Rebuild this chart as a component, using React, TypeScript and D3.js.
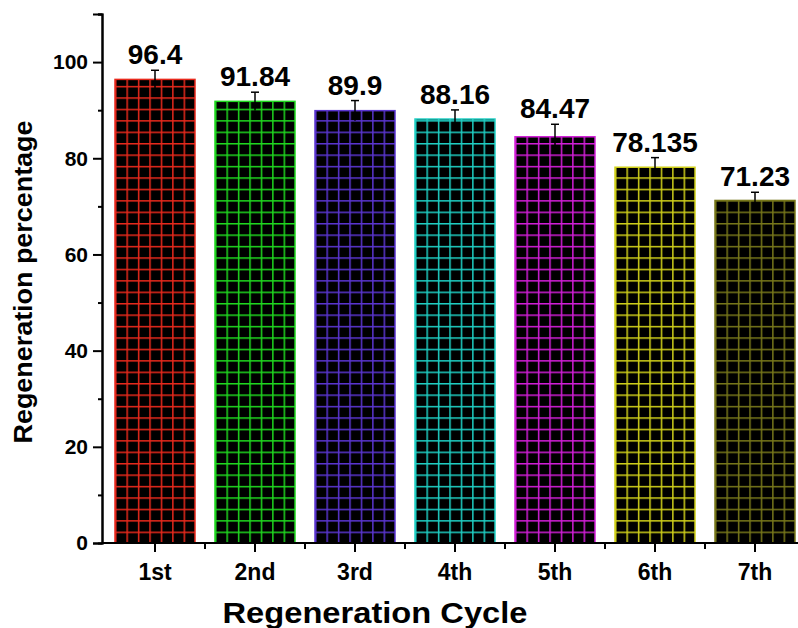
import React from "react";
import * as d3 from "d3";

const cycles = ["1st", "2nd", "3rd", "4th", "5th", "6th", "7th"];
const regen = [96.4, 91.84, 89.9, 88.16, 84.47, 78.135, 71.23];
const errors = [1.9, 1.9, 2.1, 1.9, 2.6, 2.0, 1.7];
const barColors = ["#e8291c", "#1fd81f", "#5a35d0", "#1fcfc4", "#d21ed8", "#cfcf1a", "#77771a"];
const yTicks = [0, 20, 40, 60, 80, 100];
const yMinor = [10, 30, 50, 70, 90, 110];

const W = 798;
const H = 628;
const FONT = '"Liberation Sans", Arial, sans-serif';

const App = () => {
  const ref = React.useRef<SVGSVGElement>(null);

  React.useEffect(() => {
    const svg = d3.select(ref.current);
    svg.selectAll("*").remove();

    const x = d3.scaleBand().domain(cycles).range([105, 805]).paddingInner(0.2).paddingOuter(0.1);
    const y = d3.scaleLinear().domain([0, 110]).range([543, 14]);
    const bw = x.bandwidth();
    const cell = bw / 7;

    // grid patterns, one per bar so the lines line up with each bar's edge
    const defs = svg.append("defs");
    cycles.forEach((c, i) => {
      const p = defs.append("pattern")
        .attr("id", "pat" + i)
        .attr("patternUnits", "userSpaceOnUse")
        .attr("x", x(c)!)
        .attr("y", y(0))
        .attr("width", cell)
        .attr("height", cell);
      p.append("rect").attr("width", cell).attr("height", cell).attr("fill", "black");
      p.append("line").attr("x1", 0).attr("x2", 0).attr("y1", 0).attr("y2", cell)
        .attr("stroke", barColors[i]).attr("stroke-width", 3);
      p.append("line").attr("x1", 0).attr("x2", cell).attr("y1", 0).attr("y2", 0)
        .attr("stroke", barColors[i]).attr("stroke-width", 3);
    });

    //bars
    svg.append("g").selectAll("rect")
      .data(regen)
      .join("rect")
      .attr("x", (d, i) => x(cycles[i])!)
      .attr("y", d => y(d))
      .attr("width", bw)
      .attr("height", d => y(0) - y(d))
      .attr("fill", (d, i) => "url(#pat" + i + ")")
      .attr("stroke", (d, i) => barColors[i])
      .attr("stroke-width", 1.5);

    //error bars (upper half shows, lower half sits on the black fill)
    const eb = svg.append("g").attr("stroke", "black").attr("stroke-width", 1.5);
    regen.forEach((v, i) => {
      const cx = x(cycles[i])! + bw / 2;
      eb.append("line").attr("x1", cx).attr("x2", cx).attr("y1", y(v - errors[i])).attr("y2", y(v + errors[i]));
      eb.append("line").attr("x1", cx - 4).attr("x2", cx + 4).attr("y1", y(v + errors[i])).attr("y2", y(v + errors[i]));
    });

    //value labels
    svg.append("g").selectAll("text")
      .data(regen)
      .join("text")
      .attr("x", (d, i) => x(cycles[i])! + bw / 2)
      .attr("y", (d, i) => y(d + errors[i]) - 6)
      .attr("text-anchor", "middle")
      .attr("font-family", FONT)
      .attr("font-weight", "bold")
      .attr("font-size", 28)
      .attr("fill", "black")
      .text(d => String(d));

    //y axis
    const ya = svg.append("g").attr("transform", "translate(102,0)");
    ya.call(d3.axisLeft(y).tickValues(yTicks).tickSize(9).tickPadding(5).tickFormat(d3.format("d")));
    ya.append("g").call(d3.axisLeft(y).tickValues(yMinor).tickSize(4).tickFormat(() => ""));
    ya.selectAll(".domain").attr("stroke-width", 2);
    ya.selectAll(".tick line").attr("stroke-width", 2);
    ya.selectAll("text").attr("font-family", FONT).attr("font-weight", "bold").attr("font-size", 21).attr("fill", "black");

    //x axis
    const xa = svg.append("g").attr("transform", "translate(0," + y(0) + ")");
    xa.append("line").attr("x1", 102).attr("x2", 805).attr("stroke", "black").attr("stroke-width", 2);
    cycles.forEach((c, i) => {
      const cx = x(c)! + bw / 2;
      xa.append("line").attr("x1", cx).attr("x2", cx).attr("y1", 0).attr("y2", 9)
        .attr("stroke", "black").attr("stroke-width", 2);
      const bx = x(c)! - x.step() * 0.1;
      xa.append("line").attr("x1", bx + x.step()).attr("x2", bx + x.step()).attr("y1", 0).attr("y2", 6)
        .attr("stroke", "black").attr("stroke-width", 2);
      xa.append("text")
        .attr("x", cx)
        .attr("y", 37)
        .attr("text-anchor", "middle")
        .attr("font-family", FONT)
        .attr("font-weight", "bold")
        .attr("font-size", 23)
        .attr("fill", "black")
        .text(c);
    });

    //axis titles
    svg.append("text")
      .attr("transform", "translate(32,282) rotate(-90)")
      .attr("text-anchor", "middle")
      .attr("font-family", FONT)
      .attr("font-weight", "bold")
      .attr("font-size", 25)
      .attr("textLength", 323)
      .attr("lengthAdjust", "spacingAndGlyphs")
      .attr("fill", "black")
      .text("Regeneration percentage");

    svg.append("text")
      .attr("x", 375)
      .attr("y", 623)
      .attr("text-anchor", "middle")
      .attr("font-family", FONT)
      .attr("font-weight", "bold")
      .attr("font-size", 29)
      .attr("textLength", 305)
      .attr("lengthAdjust", "spacingAndGlyphs")
      .attr("fill", "black")
      .text("Regeneration Cycle");
  }, []);

  return (
    <svg ref={ref} width={W} height={H}
      style={{ position: "absolute", left: 0, top: 0, background: "white" }} />
  );
};

export default App;
